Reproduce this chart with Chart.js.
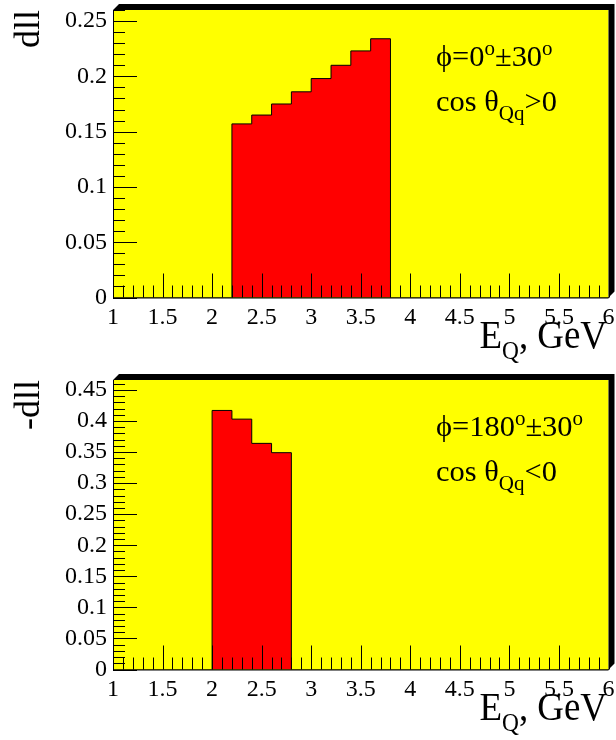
<!DOCTYPE html>
<html>
<head>
<meta charset="utf-8">
<script src="https://cdn.jsdelivr.net/npm/chart.js@4.4.1/dist/chart.umd.min.js"></script>
<style>
  html, body { margin: 0; padding: 0; background: #fff; }
  canvas { display: block; }
</style>
</head>
<body>
<canvas id="topChart" width="616" height="370"></canvas>
<canvas id="bottomChart" width="616" height="370"></canvas>
<script>
// histogram bins (low edges) and contents
const binWidth = 0.2;
const topEdges = [2.2, 2.4, 2.6, 2.8, 3.0, 3.2, 3.4, 3.6];
const topValues = [0.157, 0.165, 0.175, 0.186, 0.198, 0.210, 0.223, 0.234];
const bottomEdges = [2.0, 2.2, 2.4, 2.6];
const bottomValues = [0.417, 0.403, 0.364, 0.349];

// axes
const xTicks = [1, 1.5, 2, 2.5, 3, 3.5, 4, 4.5, 5, 5.5, 6];
const xTickLabels = ['1', '1.5', '2', '2.5', '3', '3.5', '4', '4.5', '5', '5.5', '6'];
const topYTicks = [0, 0.05, 0.1, 0.15, 0.2, 0.25];
const topYLabels = ['0', '0.05', '0.1', '0.15', '0.2', '0.25'];
const bottomYTicks = [0, 0.05, 0.1, 0.15, 0.2, 0.25, 0.3, 0.35, 0.4, 0.45];
const bottomYLabels = ['0', '0.05', '0.1', '0.15', '0.2', '0.25', '0.3', '0.35', '0.4', '0.45'];

const serif = '"Liberation Serif", "DejaVu Serif", serif';

// draw text made of pieces [text, size, dy] one after another
function drawRich(ctx, x, y, parts, align, sx) {
    sx = sx || 1;
    let total = 0;
    parts.forEach(p => {
        ctx.font = p[1] + 'px ' + serif;
        total += ctx.measureText(p[0]).width;
    });
    if (align === 'right') x -= total * sx;
    ctx.save();
    ctx.translate(x, y);
    ctx.scale(sx, 1);
    ctx.textAlign = 'left';
    ctx.textBaseline = 'alphabetic';
    let cx = 0;
    parts.forEach(p => {
        ctx.font = p[1] + 'px ' + serif;
        ctx.fillText(p[0], cx, p[2]);
        cx += ctx.measureText(p[0]).width;
    });
    ctx.restore();
}

function noPad(s) {
    s.paddingLeft = 0; s.paddingRight = 0;
    s.paddingTop = 0; s.paddingBottom = 0;
}

function makePanel(id, edges, values, yMax, yTicks, yLabels, yTitle, notes, areaBottom) {
    // step outline: start at 0, one point per bin, close at 0
    const pts = [{x: edges[0], y: 0}];
    for (let i = 0; i < edges.length; i++) pts.push({x: edges[i], y: values[i]});
    pts.push({x: edges[edges.length - 1] + binWidth, y: 0});

    const frame = {
        id: 'frame',
        beforeDatasetsDraw(chart) {
            const a = chart.chartArea, ctx = chart.ctx;
            ctx.save();
            ctx.fillStyle = '#ffff00';
            ctx.fillRect(a.left, a.top, a.right - a.left, a.bottom - a.top);
            ctx.restore();
        },
        afterDatasetsDraw(chart) {
            const a = chart.chartArea, ctx = chart.ctx;
            const xs = chart.scales.x, ys = chart.scales.y;
            ctx.save();
            ctx.strokeStyle = '#000';
            ctx.lineWidth = 1;
            ctx.beginPath();
            // x ticks, every 0.1, major every 0.5
            for (let i = 10; i <= 60; i++) {
                const px = Math.round(xs.getPixelForValue(i / 10)) + 0.5;
                const len = i % 5 === 0 ? 24 : 12;
                ctx.moveTo(px, a.bottom);
                ctx.lineTo(px, a.bottom - len);
            }
            // y ticks, every 0.01, major every 0.05
            for (let i = 0; i <= Math.floor(yMax * 100 + 1e-6); i++) {
                const py = Math.round(ys.getPixelForValue(i / 100)) + 0.5;
                const len = i % 5 === 0 ? 24 : 12;
                ctx.moveTo(a.left, py);
                ctx.lineTo(a.left + len, py);
            }
            ctx.stroke();
            // axis lines
            ctx.beginPath();
            ctx.moveTo(a.left + 0.5, a.top);
            ctx.lineTo(a.left + 0.5, a.bottom + 0.5);
            ctx.lineTo(a.right, a.bottom + 0.5);
            ctx.stroke();
            ctx.restore();
        },
        afterDraw(chart) {
            const a = chart.chartArea, ctx = chart.ctx;
            const b = 6;
            ctx.save();
            // dark 3D border on top and right of the frame
            ctx.fillStyle = '#000';
            ctx.beginPath();
            ctx.moveTo(a.left, a.top);
            ctx.lineTo(a.left + b, a.top - b);
            ctx.lineTo(a.right + b, a.top - b);
            ctx.lineTo(a.right + b, a.bottom - b);
            ctx.lineTo(a.right, a.bottom);
            ctx.lineTo(a.right, a.top);
            ctx.closePath();
            ctx.fill();

            ctx.fillStyle = '#000';
            notes.forEach(n => drawRich(ctx, n.x, n.y, n.parts, 'left', 1.05));
            drawRich(ctx, 607, areaBottom + 50, [['E', 41, 0], ['Q', 26, 11], [', GeV', 41, 0]], 'right', 0.9);

            ctx.translate(39, a.top);
            ctx.rotate(-Math.PI / 2);
            ctx.font = '36px ' + serif;
            ctx.textAlign = 'right';
            ctx.textBaseline = 'alphabetic';
            ctx.fillText(yTitle, 0, 0);
            ctx.restore();
        }
    };

    return new Chart(document.getElementById(id), {
        type: 'line',
        data: {
            datasets: [{
                data: pts,
                stepped: 'before',
                fill: 'origin',
                backgroundColor: '#ff0000',
                borderColor: '#000000',
                borderWidth: 1,
                pointRadius: 0,
                tension: 0
            }]
        },
        options: {
            responsive: false,
            animation: false,
            events: [],
            layout: { padding: { top: 10, right: 7.5, left: 0, bottom: 0 } },
            plugins: { legend: { display: false }, tooltip: { enabled: false } },
            scales: {
                x: {
                    type: 'linear',
                    min: 1, max: 6,
                    afterFit: s => { s.height = 370 - areaBottom; noPad(s); },
                    afterBuildTicks: s => { s.ticks = xTicks.map(v => ({value: v})); },
                    grid: { display: false, drawTicks: false },
                    border: { display: true, color: '#000' },
                    ticks: {
                        autoSkip: false, maxRotation: 0, padding: 6,
                        color: '#000', font: { family: serif, size: 24 },
                        callback: (v, i) => xTickLabels[i]
                    }
                },
                y: {
                    min: 0, max: yMax,
                    afterFit: s => { s.width = 113; noPad(s); },
                    afterBuildTicks: s => { s.ticks = yTicks.map(v => ({value: v})); },
                    grid: { display: false, drawTicks: false },
                    border: { display: true, color: '#000' },
                    ticks: {
                        autoSkip: false, padding: 6,
                        color: '#000', font: { family: serif, size: 24 },
                        callback: (v, i) => yLabels[i]
                    }
                }
            }
        },
        plugins: [frame]
    });
}

makePanel('topChart', topEdges, topValues, 0.26, topYTicks, topYLabels, 'dll', [
    {x: 436, y: 66, parts: [['ϕ=0', 29, 0], ['o', 20, -11], ['±30', 29, 0], ['o', 20, -11]]},
    {x: 436, y: 111, parts: [['cos θ', 29, 0], ['Qq', 20, 9], ['>0', 29, 0]]}
], 297.5);

makePanel('bottomChart', bottomEdges, bottomValues, 0.466, bottomYTicks, bottomYLabels, '-dll', [
    {x: 436, y: 66, parts: [['ϕ=180', 29, 0], ['o', 20, -11], ['±30', 29, 0], ['o', 20, -11]]},
    {x: 436, y: 111, parts: [['cos θ', 29, 0], ['Qq', 20, 9], ['<0', 29, 0]]}
], 299.5);
</script>
</body>
</html>
